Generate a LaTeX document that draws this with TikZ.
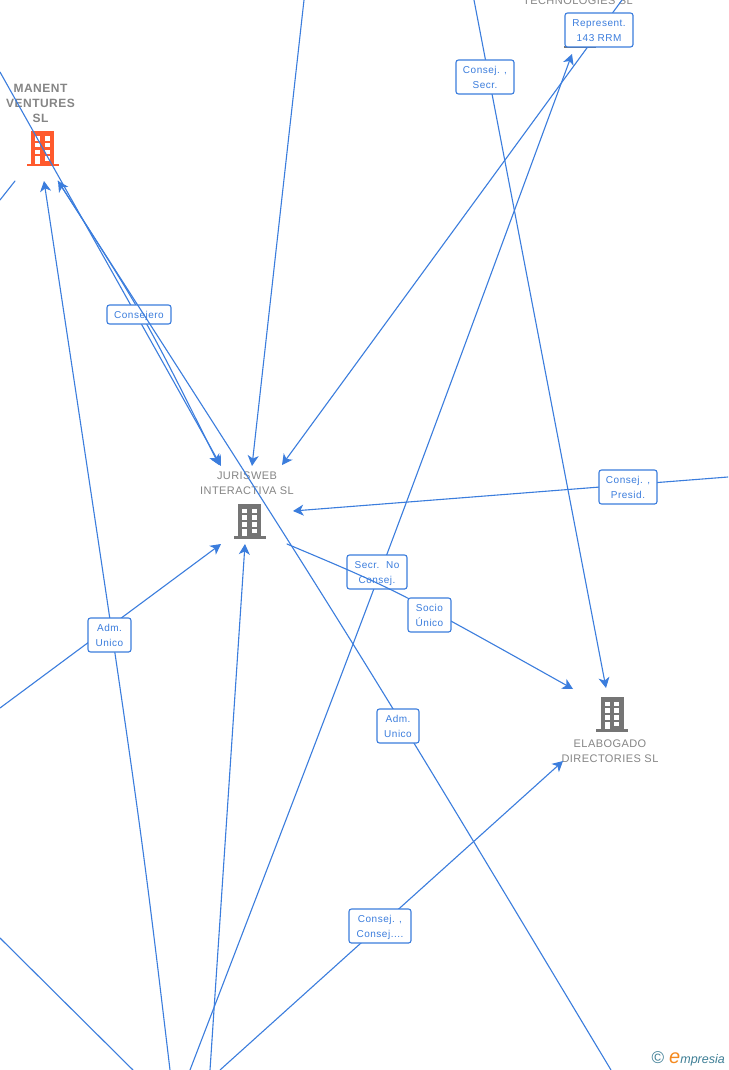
\documentclass[tikz,border=0pt]{standalone}
\usepackage{fontspec}
\setmainfont{Liberation Sans}
\usetikzlibrary{arrows.meta}
\definecolor{linkcolor}{HTML}{3B7DDD}
\definecolor{namecolor}{HTML}{858585}
\definecolor{iconcolor}{HTML}{757575}
\definecolor{hotcolor}{HTML}{FF5A2D}
\definecolor{logocolor}{HTML}{3F7F96}
\definecolor{logoorange}{HTML}{F58A1F}
\newcommand{\tagline}[2][1.4pt]{\raisebox{-#1}[8pt][2pt]{#2}}

\begin{document}
\begin{tikzpicture}
  [x=1pt,y=-1pt,line cap=round,
   % Styles
   plain link/.style={draw=linkcolor,line width=1.1pt},
   link/.style={plain link,-{Stealth[length=10.5pt,width=11pt,inset=3pt]}},
   tag/.style={draw=linkcolor,line width=1.1pt,rounded corners=2.5pt,fill=white,text=linkcolor,
     font=\fontsize{10}{15}\addfontfeature{LetterSpace=5}\selectfont,align=center,inner sep=0pt,minimum height=34pt},
   firm/.style={text=namecolor,font=\fontsize{11}{15}\addfontfeature{LetterSpace=4}\selectfont,align=center,inner sep=0pt},
   hot firm/.style={firm,font=\fontsize{12}{15}\bfseries\addfontfeature{LetterSpace=4}\selectfont},
   building/.pic={
     \fill[#1] (-11.5,-17) rectangle (11.5,15.5);
     \fill[#1] (-16,15) rectangle (16,17.5);
     \foreach \wx in {-7.5,2}
       \foreach \wy in {-12.5,-5.75,1}
         \fill[white] (\wx,\wy) rectangle +(5,4.5);
     \fill[white] (-7.5,7.5) rectangle (-2.5,15);
     \fill[white] (2,7.5) rectangle (7,12);
   }]

  \useasboundingbox (0,0) rectangle (728,1070);
  \clip (0,0) rectangle (728,1070);
  \fill[white] (0,0) rectangle (728,1070);

  % Firms
  \path (42.5,148.5) pic {building=hotcolor};
  \path (249.5,521) pic {building=iconcolor};
  \path (612,714) pic {building=iconcolor};
  \path (579.5,31) pic {building=iconcolor};

  \node[hot firm] (manent) at (40.5,103) {MANENT\\VENTURES\\SL};
  \node[firm] (jurisweb) at (247,483) {JURISWEB\\INTERACTIVA SL};
  \node[firm] (elabogado) at (610,751) {ELABOGADO\\DIRECTORIES SL};
  \node[firm] (technologies) at (578,1) {TECHNOLOGIES SL};

  % Free ends and arrow ends
  \coordinate (manentin) at (44,181);
  \coordinate (manentback) at (58,181);
  \coordinate (jurtopa) at (221,466);
  \coordinate (jurtopb) at (252,466);
  \coordinate (jurtopc) at (282,465);
  \coordinate (jurright) at (293,511);
  \coordinate (jurout) at (287,544);
  \coordinate (jurleft) at (221,544);
  \coordinate (jurlow) at (245,544);
  \coordinate (elatop) at (606,688);
  \coordinate (elaleft) at (573,689);
  \coordinate (elalow) at (563,761);
  \coordinate (techlow) at (572,54);

  % Plain lines and links without a tag
  \draw[plain link] (15,181) -- (0,200);
  \draw[plain link] (0,938) -- (133,1070);
  \draw[link] (304,0) -- (jurtopb);
  \draw[link] (210,1070) -- (jurlow);

  % Links with a tag, slightly bent as in the picture
  \draw[link] (170,1070) .. controls (139.3,812) .. (manentin);
  \draw[link] (0,708) -- (jurleft);
  \node[tag,minimum width=43pt] (admleft) at (109.5,635) {\tagline{Adm.}\\\tagline{Unico}};

  \draw[link] (0,72) -- (jurtopa);
  \draw[link] (manentback) .. controls (144.6,316) .. (219,465);
  \node[tag,minimum width=64pt,minimum height=19pt] (consejero) at (139,314.5) {\tagline[0.6pt]{Consejero}};

  \draw[link] (611,1070) .. controls (351,637) .. (manentback);
  \node[tag,minimum width=42pt] (admright) at (398,726) {\tagline{Adm.}\\\tagline{Unico}};

  \draw[link] (474,0) -- (elatop);
  \node[tag,minimum width=58pt] (secr) at (485,77) {\tagline{Consej. ,}\\\tagline{Secr.}};

  \draw[link] (622,0) -- (jurtopc);
  \node[tag,minimum width=68pt] (represent) at (599,30) {\tagline{Represent.}\\\tagline{143 RRM}};

  \draw[link] (190,1070) .. controls (385,562) .. (techlow);
  \node[tag,minimum width=60pt] (noconsej) at (377,572) {\tagline{Secr.~~No}\\\tagline{Consej.}};

  \draw[link] (728,477) -- (jurright);
  \node[tag,minimum width=58pt] (presid) at (628,487) {\tagline{Consej. ,}\\\tagline{Presid.}};

  \draw[link] (jurout) .. controls (395.7,589.7) .. (elaleft);
  \node[tag,minimum width=43pt] (socio) at (429.5,615) {\tagline{Socio}\\\tagline{Único}};

  \draw[link] (220,1070) -- (elalow);
  \node[tag,minimum width=62pt] (consej) at (380,926) {\tagline{Consej. ,}\\\tagline{Consej....}};

  % Footer
  \node[inner sep=0pt,text=logocolor,anchor=east] (logo) at (725,1059)
    {\fontsize{17}{17}\selectfont ©\hspace{5pt}{\fontsize{20}{20}\selectfont\itshape\color{logoorange}e}\fontsize{12.5}{12}\selectfont\itshape mpresia};
\end{tikzpicture}
\end{document}
